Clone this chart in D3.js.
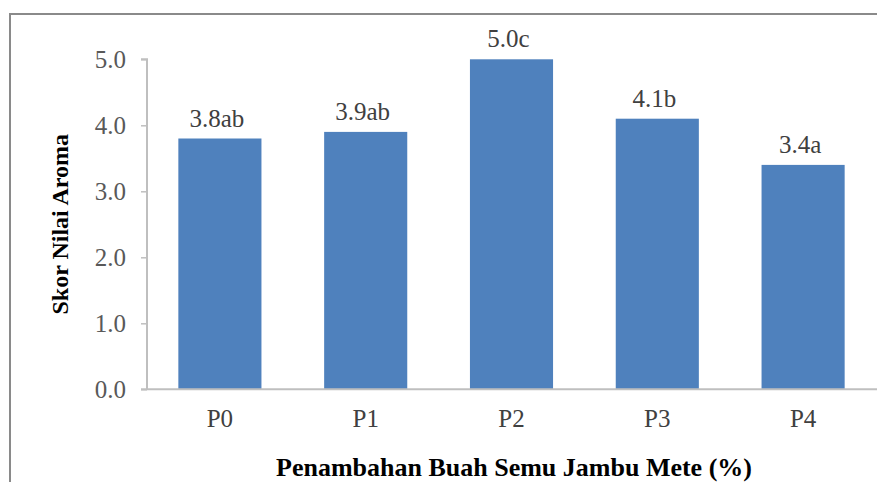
<!DOCTYPE html>
<html>
<head>
<meta charset="utf-8">
<script src="https://cdn.jsdelivr.net/npm/d3@7"></script>
<style>
  html, body { margin: 0; padding: 0; background: #fff; }
  svg { display: block; }
</style>
</head>
<body>
<svg id="chart" width="877" height="482"></svg>
<script>
// Aroma scores per treatment level
const categories = ["P0", "P1", "P2", "P3", "P4"];
const scores = [3.8, 3.9, 5.0, 4.1, 3.4];
const letters = ["ab", "ab", "c", "b", "a"];
const yTicks = [0, 1, 2, 3, 4, 5];
const yTitle = "Skor Nilai Aroma";
const xTitle = "Penambahan Buah Semu Jambu Mete (%)";

const SERIF = "'Liberation Serif', 'Times New Roman', serif";
const svg = d3.select("#chart").attr("font-family", SERIF);
const W = 877, H = 482;
const plot = { left: 147, right: 876, top: 59.3, bottom: 389.3 };

// Outer frame (top and left edges visible)
svg.append("path")
  .attr("d", `M10,${H} L10,14 L${W},14`)
  .attr("fill", "none")
  .attr("stroke", "#8a8a8a")
  .attr("stroke-width", 2);

const x = d3.scaleBand()
  .domain(categories)
  .range([plot.left, plot.right])
  .paddingInner(0.43)
  .paddingOuter(0.215);

const y = d3.scaleLinear()
  .domain([0, 5])
  .range([plot.bottom, plot.top]);

// Bars
svg.append("g").selectAll("rect")
  .data(categories)
  .join("rect")
  .attr("x", d => x(d))
  .attr("width", x.bandwidth())
  .attr("y", (d, i) => y(scores[i]))
  .attr("height", (d, i) => y(0) - y(scores[i]))
  .attr("fill", "#4f81bd");

// Y axis
const yAxis = svg.append("g")
  .attr("transform", `translate(${plot.left},0)`)
  .call(d3.axisLeft(y).tickValues(yTicks).tickFormat(d3.format(".1f")).tickSize(6).tickPadding(15));
yAxis.attr("font-family", SERIF);
yAxis.select(".domain").attr("stroke", "#bfbfbf").attr("stroke-width", 2)
  .attr("d", `M-6,${y(5)}H0V${y(0)}`);
yAxis.selectAll(".tick line").attr("stroke", "#bfbfbf").attr("stroke-width", 1.5);
yAxis.selectAll(".tick text")
  .attr("font-size", 25)
  .attr("fill", "#595959");

// X axis
const xAxis = svg.append("g")
  .attr("transform", `translate(0,${plot.bottom})`)
  .call(d3.axisBottom(x).tickSize(0).tickPadding(20));
xAxis.attr("font-family", SERIF);
xAxis.select(".domain").attr("stroke", "#bfbfbf").attr("stroke-width", 2)
  .attr("d", `M${plot.left - 6},0H${W}`);
xAxis.selectAll(".tick text")
  .attr("font-size", 25)
  .attr("fill", "#404040");

// Value labels above bars
svg.append("g").selectAll("text")
  .data(categories)
  .join("text")
  .attr("font-family", SERIF)
  .attr("x", d => x(d) + x.bandwidth() / 2 - 3)
  .attr("y", (d, i) => y(scores[i]) - 12)
  .attr("text-anchor", "middle")
  .attr("font-size", 25)
  .attr("fill", "#404040")
  .text((d, i) => scores[i].toFixed(1) + letters[i]);

// Axis titles
svg.append("text")
  .attr("font-family", SERIF)
  .attr("transform", `translate(68,${(plot.top + plot.bottom) / 2}) rotate(-90)`)
  .attr("text-anchor", "middle")
  .attr("font-size", 24)
  .attr("font-weight", "bold")
  .attr("fill", "#000")
  .text(yTitle);

svg.append("text")
  .attr("font-family", SERIF)
  .attr("x", 514)
  .attr("y", 476)
  .attr("text-anchor", "middle")
  .attr("font-size", 26)
  .attr("font-weight", "bold")
  .attr("fill", "#000")
  .text(xTitle);
</script>
</body>
</html>
